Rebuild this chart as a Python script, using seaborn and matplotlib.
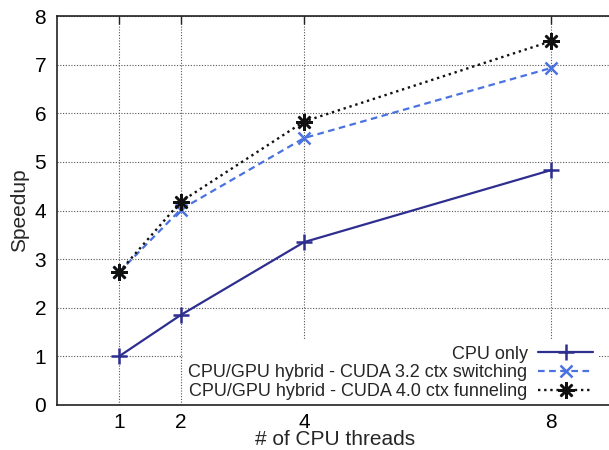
import matplotlib
matplotlib.use("Agg")
import matplotlib.pyplot as plt
import seaborn as sns
import pandas as pd

threads = [1, 2, 4, 8]
cpu_only = [1.0, 1.85, 3.35, 4.83]
cuda32 = [2.73, 4.02, 5.49, 6.93]
cuda40 = [2.73, 4.18, 5.83, 7.48]
labels = ["CPU only",
          "CPU/GPU hybrid - CUDA 3.2 ctx switching",
          "CPU/GPU hybrid - CUDA 4.0 ctx funneling"]
x_ticks = [1, 2, 4, 8]
y_ticks = [0, 1, 2, 3, 4, 5, 6, 7, 8]

sns.set_theme(style="white")
plt.rcParams["font.family"] = ["Liberation Sans", "DejaVu Sans"]

fig = plt.figure(figsize=(6.09, 4.5), dpi=100)
ax = fig.add_axes([57.3 / 609, 45 / 450, 555.3 / 609, 389 / 450])

colors = ["#2e2e8f", "#4a72e0", "#111111"]
styles = [
    dict(linestyle="-", marker="+", markersize=12, markeredgewidth=1.8, linewidth=1.6),
    dict(linestyle=(0, (3, 2)), marker="x", markersize=9, markeredgewidth=1.8, linewidth=1.6),
    dict(linestyle=(0, (1, 1.6)), marker=(8, 2, 0), markersize=12, markeredgewidth=1.8, linewidth=1.7),
]
series = [cpu_only, cuda32, cuda40]
for vals, lab, st, c in zip(series, labels, styles, colors):
    df = pd.DataFrame({"threads": threads, "speedup": vals})
    sns.lineplot(data=df, x="threads", y="speedup", ax=ax, label=lab,
                 color=c, markeredgecolor=c, markerfacecolor=c, **st)

ax.set_xlim(0, 9)
ax.set_ylim(0, 8)
ax.set_xticks(x_ticks)
ax.set_yticks(y_ticks)
ax.set_xticklabels([str(t) for t in x_ticks])
ax.set_yticklabels([str(t) for t in y_ticks])
ax.grid(True, color="#555555", linestyle=(0, (1, 1.5)), linewidth=0.8)
ax.set_axisbelow(True)

for side in ["left", "bottom", "top"]:
    ax.spines[side].set_visible(True)
    ax.spines[side].set_color("#222222")
    ax.spines[side].set_linewidth(1.2)
    ax.spines[side].set_zorder(6)
ax.spines["right"].set_visible(False)

ax.tick_params(axis="both", direction="in", length=6, width=1, colors="#222222",
               labelsize=15, labelcolor="black", top=True, right=False)
ax.tick_params(axis="x", pad=6)
ax.tick_params(axis="y", pad=8)

ax.set_xlabel("# of CPU threads", fontsize=15, labelpad=-2)
ax.set_ylabel("Speedup", fontsize=15, labelpad=4)

leg = ax.legend(loc="lower right", bbox_to_anchor=(0.99, -0.025), markerfirst=False,
                fontsize=13, handlelength=3.0, handletextpad=0.6, labelspacing=0.1,
                borderpad=0.3, frameon=True, fancybox=False)
leg.get_frame().set_facecolor("white")
leg.get_frame().set_edgecolor("none")
leg.get_frame().set_alpha(1)
leg.set_zorder(5)

fig.savefig("out.png", dpi=100)
